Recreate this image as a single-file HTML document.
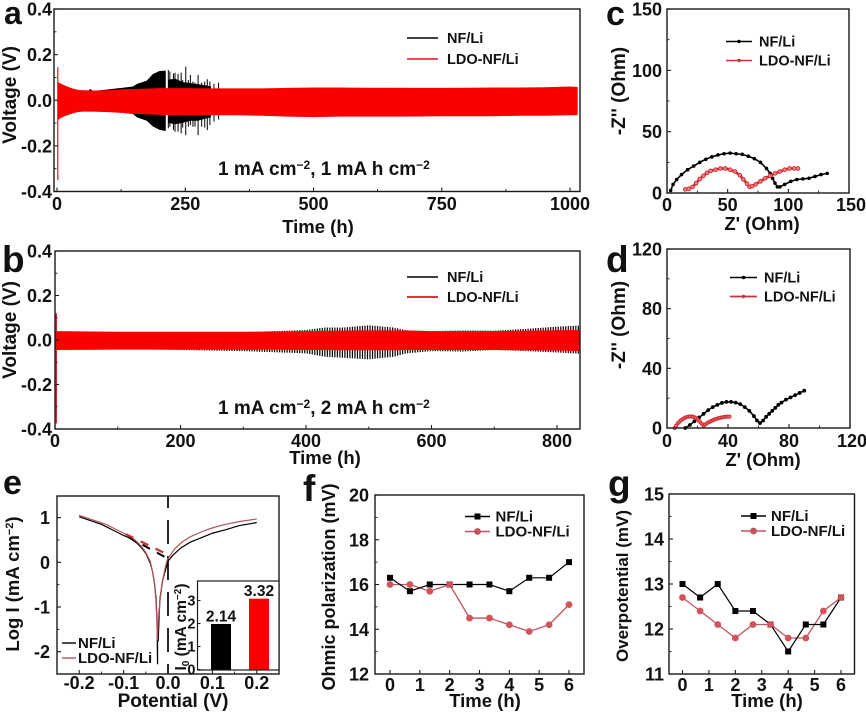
<!DOCTYPE html>
<html>
<head>
<meta charset="utf-8">
<title>Electrochemical performance panels</title>
<style>
html,body{margin:0;padding:0;background:#fff;width:866px;height:713px;overflow:hidden}
svg{display:block}
text{font-family:"Liberation Sans",sans-serif;font-weight:bold;fill:#111}
</style>
</head>
<body>
<svg id="fig" xmlns="http://www.w3.org/2000/svg" width="866" height="713" viewBox="0 0 866 713">
  <rect x="0" y="0" width="866" height="713" fill="#fff"/>
  <g id="marks"></g>

  <text x="4" y="24" font-size="32">a</text>
  <text x="2" y="272" font-size="37">b</text>
  <text x="606" y="25" font-size="34">c</text>
  <text x="606" y="272" font-size="37">d</text>
  <text x="3" y="494" font-size="34">e</text>
  <text x="303" y="501" font-size="37">f</text>
  <text x="608" y="496" font-size="37">g</text>

  <text x="318" y="233" font-size="18.5" text-anchor="middle">Time (h)</text>
  <text transform="translate(16,95) rotate(-90)" font-size="19" text-anchor="middle">Voltage (V)</text>
  <text x="218" y="175" font-size="19">1 mA cm<tspan dy="-6" font-size="12">−2</tspan><tspan dy="6">, 1 mA h cm</tspan><tspan dy="-6" font-size="12">−2</tspan></text>

  <text x="325" y="464" font-size="18.5" text-anchor="middle">Time (h)</text>
  <text transform="translate(16,330) rotate(-90)" font-size="19" text-anchor="middle">Voltage (V)</text>
  <text x="218" y="414" font-size="19">1 mA cm<tspan dy="-6" font-size="12">−2</tspan><tspan dy="6">, 2 mA h cm</tspan><tspan dy="-6" font-size="12">−2</tspan></text>

  <text x="762" y="230" font-size="18.5" text-anchor="middle">Z' (Ohm)</text>
  <text transform="translate(625,91) rotate(-90)" font-size="19" text-anchor="middle">-Z'' (Ohm)</text>
  <text x="763" y="466" font-size="18.5" text-anchor="middle">Z' (Ohm)</text>
  <text transform="translate(625,325) rotate(-90)" font-size="19" text-anchor="middle">-Z'' (Ohm)</text>

  <text x="173" y="707" font-size="19" text-anchor="middle">Potential (V)</text>
  <text transform="translate(19,584) rotate(-90)" font-size="18.5" text-anchor="middle">Log I (mA cm<tspan dy="-6" font-size="11">−2</tspan><tspan dy="6">)</tspan></text>

  <text x="485" y="707" font-size="18.5" text-anchor="middle">Time (h)</text>
  <text transform="translate(335,587) rotate(-90)" font-size="18" text-anchor="middle">Ohmic polarization (mV)</text>
  <text x="767" y="707" font-size="18.5" text-anchor="middle">Time (h)</text>
  <text transform="translate(628,586) rotate(-90)" font-size="17" text-anchor="middle">Overpotential (mV)</text>
</svg>

<script>
// ---------- panel a ----------
const aXTicks = [0, 250, 500, 750, 1000];
const aXLabels = ['0', '250', '500', '750', '1000'];
const aXMinor = [125, 375, 625, 875];
const aYTicks = [-0.4, -0.2, 0, 0.2, 0.4];
const aYLabels = ['-0.4', '-0.2', '0.0', '0.2', '0.4'];
const aYMinor = [-0.3, -0.1, 0.1, 0.3];
const aRedTime = [1,3,6,10,15,20,30,40,50,70,100,130,160,200,250,300,350,400,450,500,550,600,650,700,750,800,850,900,950,1000,1015];
const aRedHigh = [.08,.078,.075,.07,.065,.06,.052,.046,.044,.043,.044,.048,.05,.053,.053,.052,.052,.052,.054,.056,.056,.055,.055,.054,.054,.055,.056,.056,.057,.06,.058];
const aRedLow = [-.08,-.085,-.08,-.075,-.07,-.066,-.058,-.052,-.05,-.05,-.052,-.056,-.06,-.064,-.066,-.066,-.066,-.068,-.072,-.074,-.072,-.072,-.072,-.071,-.07,-.07,-.07,-.068,-.068,-.066,-.065];
const aBlackTime = [60,65,70,148,156,175,187,200,212];
const aBlackHigh = [.04,.05,.04,.06,.072,.086,.115,.128,.13];
const aBlackLow = [-.04,-.05,-.04,-.06,-.075,-.09,-.115,-.13,-.135];
const aBlackTime2 = [217,230,245,260,275,290,300];
const aBlackHigh2 = [.09,.095,.08,.075,.07,.065,.06];
const aBlackLow2 = [-.1,-.105,-.1,-.09,-.09,-.08,-.075];
const aSpikeTime = [217,220,227,230,236,242,245,251,256,260,265,269,275,282,288,293,298,306,315];
const aSpikeHigh = [.133,.126,.117,.121,.116,.121,.089,.148,.089,.111,.082,.077,.111,.077,.082,.092,.082,.072,.077];
const aSpikeLow = [-.123,-.116,-.13,-.138,-.138,-.145,-.12,-.153,-.116,-.109,-.116,-.116,-.153,-.116,-.12,-.131,-.109,-.094,-.084];
const aStartTime = [1.5];
const aStartHigh = [0.145];
const aStartLow = [-0.35];

// ---------- panel b ----------
const bXTicks = [0, 200, 400, 600, 800];
const bXLabels = ['0', '200', '400', '600', '800'];
const bXMinor = [100, 300, 500, 700];
const bYTicks = [-0.4, -0.2, 0, 0.2, 0.4];
const bYLabels = ['-0.4', '-0.2', '0.0', '0.2', '0.4'];
const bYMinor = [-0.3, -0.1, 0.1, 0.3];
const bAnchorTime = [2,100,200,300,350,400,430,460,500,540,560,600,650,700,750,800,836];
const bBlackHigh = [.035,.035,.035,.036,.04,.045,.056,.056,.066,.056,.044,.04,.043,.042,.05,.06,.065];
const bBlackLow = [-.04,-.04,-.045,-.05,-.055,-.06,-.075,-.08,-.087,-.075,-.06,-.05,-.052,-.045,-.05,-.056,-.062];
const bRedHigh = [.04,.037,.037,.037,.038,.04,.041,.042,.043,.043,.042,.04,.04,.04,.042,.044,.045];
const bRedLow = [-.045,-.043,-.043,-.044,-.044,-.045,-.045,-.046,-.046,-.046,-.045,-.045,-.045,-.045,-.046,-.047,-.05];
const bStartTime = [2];
const bStartHigh = [0.12];
const bStartLow = [-0.375];

// ---------- panel c ----------
const cTicks = [0, 50, 100, 150];
const cLabels = ['0', '50', '100', '150'];
const cMinor = [25, 75, 125];
const cBlackZre = [3,5,8,12,17,22,27,32,37,42,47,52,57,62,67,72,77,82,85,87,89,91,93,97,102,107,112,117,122,127,132];
const cBlackZim = [2,7,11,15,19,22,25,27.5,29.5,31,32,32.5,32,31.5,30,28,25,20,16,12,8,5,5,7,9.5,11,11.5,12,13.5,15,16];
const cRedZre = [15,18,21,24,27,30,33,36,40,44,48,52,56,60,63,66,68,70,73,77,81,85,89,93,97,101,105,108];
const cRedZim = [3,3.5,5,8,11.5,14,16.5,18,19,20,20,19,17.5,14.5,11,7.5,5,5.5,7,9.5,12,14,16,17.5,19,20,20,20];

// ---------- panel d ----------
const dTicks = [0, 40, 80, 120];
const dLabels = ['0', '40', '80', '120'];
const dMinor = [20, 60, 100];
const dBlackZre = [12,15,18,21,24,27,30,33,36,39,42,45,48,51,54,57,59,61,63,65,67,69,71,73,75,78,81,84,87,90];
const dBlackZim = [0,2,4.5,7,9.5,12,14,15.5,16.8,17.5,17.5,17,16,14,11.5,8,5,3.3,5,7.5,9.5,11.5,13.5,15.5,17,19,20.5,22,23.5,25];
const dRedZre = [5,6,7,8,9,10,11,12,13,14,15,16,17,18,19,20,21,22,23,24,25,26,27,28,29,30,31,32,33,34,35,36,37,38,39,40,41];
const dRedZim = [0,1.5,3,4,5,5.8,6.4,7,7.3,7.6,7.7,7.7,7.6,7.2,6.6,5.8,4.8,3.7,2.6,1.7,2.3,3,3.7,4.2,4.7,5.2,5.6,6,6.3,6.6,6.9,7.1,7.3,7.5,7.6,7.6,7.6];

// ---------- panel e ----------
const eXTicks = [-0.2, -0.1, 0, 0.1, 0.2];
const eXLabels = ['-0.2', '-0.1', '0.0', '0.1', '0.2'];
const eXMinor = [-0.15, -0.05, 0.05, 0.15];
const eYTicks = [-2, -1, 0, 1];
const eYLabels = ['-2', '-1', '0', '1'];
const eYMinor = [-1.5, -0.5, 0.5];
const eBlackV = [-.2,-.18,-.15,-.12,-.1,-.09,-.08,-.07,-.06,-.05,-.04,-.035,-.03,-.027,-.025,-.0235,-.0235,-.022,-.02,-.018,-.012,-.005,0,.01,.03,.05,.08,.1,.13,.16,.2];
const eBlackI = [1.02,.95,.85,.7,.6,.56,.5,.43,.33,.2,-.02,-.2,-.5,-.8,-1.2,-2.28,-1.75,-1.75,-1.2,-.8,-.4,-.15,.02,.15,.33,.45,.57,.65,.73,.82,.89];
const eRedV = [-.2,-.17,-.14,-.12,-.1,-.09,-.08,-.07,-.06,-.05,-.04,-.035,-.03,-.027,-.025,-.024,-.022,-.018,-.013,-.007,-.002,.005,.015,.03,.05,.08,.1,.13,.16,.2];
const eRedI = [1.05,.95,.85,.75,.65,.6,.54,.46,.36,.22,.02,-.2,-.5,-.9,-1.3,-1.75,-1.3,-.85,-.45,-.15,.05,.16,.3,.44,.57,.7,.77,.85,.91,.97];
const eTafelBlackV = [-0.09, 0];
const eTafelBlackI = [0.57, 0.08];
const eTafelRedV = [-0.095, 0];
const eTafelRedI = [0.63, 0.17];
const insetCategories = ['NF/Li', 'LDO-NF/Li'];
const insetBarHeights = [1.98, 3.08];
const insetBarLabels = ['2.14', '3.32'];
const insetYTicks = [0, 1, 2, 3];
const insetYLabels = ['0', '1', '2', '3'];

// ---------- panels f, g ----------
const timeHours = [0, 0.667, 1.333, 2, 2.667, 3.333, 4, 4.667, 5.333, 6];
const timeTicks = [0, 1, 2, 3, 4, 5, 6];
const timeLabels = ['0', '1', '2', '3', '4', '5', '6'];
const fNF = [16.3,15.7,16,16,16,16,15.7,16.3,16.3,17];
const fLDO = [16,16,15.7,16,14.5,14.5,14.2,13.9,14.2,15.1];
const fYTicks = [12, 14, 16, 18, 20];
const fYLabels = ['12', '14', '16', '18', '20'];
const fYMinor = [13, 15, 17, 19];
const gNF = [13,12.7,13,12.4,12.4,12.1,11.5,12.1,12.1,12.7];
const gLDO = [12.7,12.4,12.1,11.8,12.1,12.1,11.8,11.8,12.4,12.7];
const gYTicks = [11, 12, 13, 14, 15];
const gYLabels = ['11', '12', '13', '14', '15'];
const gYMinor = [11.5, 12.5, 13.5, 14.5];

const NS = 'http://www.w3.org/2000/svg';
const root = document.getElementById('marks');
const INK = '#1a1a1a';
const RED = '#fb0000';
const MUTED = '#c4525c';

function linear(d0, d1, r0, r1) {
  return v => r0 + (v - d0) * (r1 - r0) / (d1 - d0);
}
function mk(tag, attrs, parent) {
  const el = document.createElementNS(NS, tag);
  for (const k in attrs) el.setAttribute(k, attrs[k]);
  (parent || root).appendChild(el);
  return el;
}
function pts(xs, ys, sx, sy) {
  return xs.map((x, i) => sx(x).toFixed(2) + ',' + sy(ys[i]).toFixed(2)).join(' ');
}
function lookup(xs, ys, x) {
  for (let i = 1; i < xs.length; i++) {
    if (x <= xs[i]) return ys[i - 1] + (ys[i] - ys[i - 1]) * (x - xs[i - 1]) / (xs[i] - xs[i - 1]);
  }
  return ys[ys.length - 1];
}

function axes(id, box, sx, sy, cfg) {
  const g = mk('g', {});
  
  
  const frame = mk('rect', {x: box.l, y: box.t, width: box.r - box.l, height: box.b - box.t, fill: 'none', stroke: INK, 'stroke-width': 1.4}, g);
  
  
  cfg.xTicks.forEach((v, i) => {
    const t = mk('line', {x1: sx(v), x2: sx(v), y1: box.b, y2: box.b - 4, stroke: INK, 'stroke-width': 1.1}, g);
    
    
    const lab = mk('text', {x: sx(v) + (cfg.xShift ? cfg.xShift[i] || 0 : 0), y: cfg.xBase, 'font-size': cfg.fs || 18, 'text-anchor': 'middle'}, g);
    lab.textContent = cfg.xLabels[i];
    
    
  });
  (cfg.xMinor || []).forEach(v => {
    const t = mk('line', {x1: sx(v), x2: sx(v), y1: box.b, y2: box.b - 2.5, stroke: INK, 'stroke-width': 0.9}, g);
    
    
  });
  cfg.yTicks.forEach((v, i) => {
    const t = mk('line', {x1: box.l, x2: box.l + 4, y1: sy(v), y2: sy(v), stroke: INK, 'stroke-width': 1.1}, g);
    
    
    const lab = mk('text', {x: cfg.yRight, y: sy(v) + 6.5, 'font-size': cfg.fs || 18, 'text-anchor': 'end'}, g);
    lab.textContent = cfg.yLabels[i];
    
    
  });
  (cfg.yMinor || []).forEach(v => {
    const t = mk('line', {x1: box.l, x2: box.l + 2.5, y1: sy(v), y2: sy(v), stroke: INK, 'stroke-width': 0.9}, g);
    
    
  });
}

function band(name, t, hi, lo, sx, sy, color) {
  const p = mk('polygon', {points: pts(t, hi, sx, sy) + ' ' + pts(t.slice().reverse(), lo.slice().reverse(), sx, sy), fill: color});
  
  
}
function spikes(name, t, hi, lo, sx, sy, color, w) {
  t.forEach((v, i) => {
    const s = mk('line', {x1: sx(v), x2: sx(v), y1: sy(hi[i]), y2: sy(lo[i]), stroke: color, 'stroke-width': w});
    
    
  });
}
function comb(name, t, hi, lo, sx, sy, color, w) {
  for (let h = t[0]; h <= t[t.length - 1]; h += 4) {
    const s = mk('line', {x1: sx(h), x2: sx(h), y1: sy(lookup(t, hi, h)), y2: sy(lookup(t, lo, h)), stroke: color, 'stroke-width': w});
    
    
  }
}
function legend(id, label, x1, x2, tx, y, fs, color, marker, lw) {
  const l = mk('line', {x1: x1, x2: x2, y1: y, y2: y, stroke: color, 'stroke-width': lw || 1.4});
  
  
  if (marker) {
    const mx = (x1 + x2) / 2;
    const m = marker === 'square'
      ? mk('rect', {x: mx - 3, y: y - 3, width: 6, height: 6, fill: color})
      : mk('circle', {cx: mx, cy: y, r: marker, fill: color});
    
    
  }
  const t = mk('text', {x: tx, y: y + 5.2, 'font-size': fs});
  t.textContent = label;
  
  
}

// --- draw a ---
(function () {
  const sx = linear(0, 1000, 57, 570), sy = linear(-0.4, 0.4, 191.5, 9);
  const box = {l: 54, r: 580, t: 9, b: 191.5};
  band('a-nf-li-early-band', aBlackTime, aBlackHigh, aBlackLow, sx, sy, '#000');
  band('a-nf-li-late-band', aBlackTime2, aBlackHigh2, aBlackLow2, sx, sy, '#000');
  spikes('a-nf-li-spike', aSpikeTime, aSpikeHigh, aSpikeLow, sx, sy, '#000', 1);
  band('a-ldo-nf-li-band', aRedTime, aRedHigh, aRedLow, sx, sy, RED);
  spikes('a-ldo-nf-li-start-spike', aStartTime, aStartHigh, aStartLow, sx, sy, '#e0141c', 1.2);
  axes('a', box, sx, sy, {xTicks: aXTicks, xLabels: aXLabels, xMinor: aXMinor, yTicks: aYTicks, yLabels: aYLabels, yMinor: aYMinor, xBase: 210, yRight: 52});
  legend('a-nf-li', 'NF/Li', 407, 438, 447, 38, 14.5, '#000');
  legend('a-ldo-nf-li', 'LDO-NF/Li', 407, 438, 447, 59, 14.5, '#e0141c');
})();

// --- draw b ---
(function () {
  const sx = linear(0, 800, 55, 557), sy = linear(-0.4, 0.4, 429, 251);
  const box = {l: 55, r: 580, t: 251, b: 429};
  comb('b-nf-li-cycle', bAnchorTime, bBlackHigh, bBlackLow, sx, sy, '#000', 1.2);
  band('b-ldo-nf-li-band', bAnchorTime, bRedHigh, bRedLow, sx, sy, RED);
  spikes('b-ldo-nf-li-start-spike', bStartTime, bStartHigh, bStartLow, sx, sy, '#d0101a', 1.3);
  axes('b', box, sx, sy, {xTicks: bXTicks, xLabels: bXLabels, xMinor: bXMinor, yTicks: bYTicks, yLabels: bYLabels, yMinor: bYMinor, xBase: 447, yRight: 52});
  legend('b-nf-li', 'NF/Li', 407, 438, 447, 277, 14.5, '#000');
  legend('b-ldo-nf-li', 'LDO-NF/Li', 407, 438, 447, 297, 14.5, '#e0141c', null, 1.8);
})();

function eis(x, y, sx, sy) {
  return function (color, r, open, name, lw) {
    const l = mk('polyline', {points: pts(x, y, sx, sy), fill: 'none', stroke: color, 'stroke-width': lw});
    
    
    x.forEach((v, i) => {
      const c = mk('circle', {cx: sx(v), cy: sy(y[i]), r: r, fill: open ? '#f08a8a' : color, stroke: open ? color : 'none', 'stroke-width': open ? 1 : 0});
      
      
    });
  };
}

// --- draw c ---
(function () {
  const sx = linear(0, 150, 667, 849), sy = linear(0, 150, 193, 9);
  const box = {l: 667, r: 849, t: 9, b: 193};
  eis(cBlackZre, cBlackZim, sx, sy)('#000', 1.8, false, 'c-nf-li', 1.6);
  eis(cRedZre, cRedZim, sx, sy)('#d42a32', 1.8, true, 'c-ldo-nf-li', 2.6);
  axes('c', box, sx, sy, {xTicks: cTicks, xLabels: cLabels, xMinor: cMinor, yTicks: cTicks, yLabels: cLabels, yMinor: cMinor, xBase: 211, yRight: 662, xShift: [0, 0, 0, 2]});
  legend('c-nf-li', 'NF/Li', 726, 752, 759, 41.5, 14.5, '#000', 1.7);
  legend('c-ldo-nf-li', 'LDO-NF/Li', 726, 752, 759, 60.5, 14.5, '#c8333b', 1.7);
})();

// --- draw d ---
(function () {
  const sx = linear(0, 120, 667, 850), sy = linear(0, 120, 428, 249);
  const box = {l: 667, r: 850, t: 249, b: 428};
  eis(dBlackZre, dBlackZim, sx, sy)('#000', 1.9, false, 'd-nf-li', 1.6);
  eis(dRedZre, dRedZim, sx, sy)('#d42a32', 1.5, true, 'd-ldo-nf-li', 2.8);
  axes('d', box, sx, sy, {xTicks: dTicks, xLabels: dLabels, xMinor: dMinor, yTicks: dTicks, yLabels: dLabels, yMinor: dMinor, xBase: 447, yRight: 662, xShift: [0, 0, 0, 2]});
  legend('d-nf-li', 'NF/Li', 730, 757, 764, 277.5, 14.5, '#000', 1.7);
  legend('d-ldo-nf-li', 'LDO-NF/Li', 730, 757, 764, 296.5, 14.5, '#c8333b', 1.7, 1.8);
})();

// --- draw e ---
(function () {
  const sx = linear(-0.25, 0.25, 57, 279), sy = linear(0, 1, 562.3, 517.6);
  const box = {l: 57, r: 279, t: 496, b: 674};
  const zero = mk('line', {x1: sx(0), x2: sx(0), y1: box.t, y2: box.b, stroke: '#000', 'stroke-width': 1.7, 'stroke-dasharray': '24 12', 'stroke-dashoffset': 12});
  
  
  const tb = mk('line', {x1: sx(eTafelBlackV[0]), x2: sx(eTafelBlackV[1]), y1: sy(eTafelBlackI[0]), y2: sy(eTafelBlackI[1]), stroke: '#000', 'stroke-width': 2, 'stroke-dasharray': '8.5 8'});
  
  
  const cb = mk('polyline', {points: pts(eBlackV, eBlackI, sx, sy), fill: 'none', stroke: '#000', 'stroke-width': 1.2});
  
  
  const cr = mk('polyline', {points: pts(eRedV, eRedI, sx, sy), fill: 'none', stroke: '#b2545c', 'stroke-width': 1.2});
  
  
  const tr = mk('line', {x1: sx(eTafelRedV[0]), x2: sx(eTafelRedV[1]), y1: sy(eTafelRedI[0]), y2: sy(eTafelRedI[1]), stroke: '#c8333b', 'stroke-width': 2.2, 'stroke-dasharray': '8.5 8'});
  
  
  axes('e', box, sx, sy, {xTicks: eXTicks, xLabels: eXLabels, xMinor: eXMinor, yTicks: eYTicks, yLabels: eYLabels, yMinor: eYMinor, xBase: 689, yRight: 50});
  legend('e-nf-li', 'NF/Li', 62, 76, 78, 643, 15, '#000');
  legend('e-ldo-nf-li', 'LDO-NF/Li', 62, 76, 78, 658, 15, '#b2545c');

  // inset
  const iy = linear(0, 1, 669.5, 646.5);
  const ix = i => 221 + i * 38;
  const frame = mk('rect', {x: 197.5, y: 581, width: 81.5, height: 89, fill: '#fff', stroke: INK, 'stroke-width': 1.2});
  
  
  insetCategories.forEach((c, i) => {
    const b = mk('rect', {x: ix(i) - 10, y: iy(insetBarHeights[i]), width: 20, height: iy(0) - iy(insetBarHeights[i]), fill: i === 0 ? '#000' : RED});
    
    
    const t = mk('text', {x: ix(i), y: iy(insetBarHeights[i]) - 2.5, 'font-size': 15.5, 'text-anchor': 'middle'});
    t.textContent = insetBarLabels[i];
    
    
  });
  insetYTicks.forEach((v, i) => {
    const k = mk('line', {x1: 197.5, x2: 200.5, y1: iy(v), y2: iy(v), stroke: INK, 'stroke-width': 1});
    
    
    const t = mk('text', {x: 195.5, y: iy(v) + 5, 'font-size': 14.5, 'text-anchor': 'end'});
    t.textContent = insetYLabels[i];
    
    
  });
  const it = mk('text', {transform: 'translate(186,627) rotate(-90)', 'font-size': 15.5, 'text-anchor': 'middle'});
  it.innerHTML = 'I<tspan dy="3" font-size="10">0</tspan><tspan dy="-3"> (mA cm</tspan><tspan dy="-5" font-size="10">−2</tspan><tspan dy="5">)</tspan>';
  
  
})();

function timeline(id, nf, ldo, sx, sy) {
  const lr = mk('polyline', {points: pts(timeHours, ldo, sx, sy), fill: 'none', stroke: MUTED, 'stroke-width': 1.3});
  
  
  const lb = mk('polyline', {points: pts(timeHours, nf, sx, sy), fill: 'none', stroke: '#000', 'stroke-width': 1.2});
  
  
  timeHours.forEach((t, i) => {
    const s = mk('rect', {x: sx(t) - 3, y: sy(nf[i]) - 3, width: 6, height: 6, fill: '#000'});
    
    
  });
  timeHours.forEach((t, i) => {
    const c = mk('circle', {cx: sx(t), cy: sy(ldo[i]), r: 3.4, fill: '#d2535c'});
    
    
  });
}

// --- draw f ---
(function () {
  const sx = linear(0, 6, 390, 569), sy = linear(12, 20, 674, 495);
  const box = {l: 375, r: 584, t: 495, b: 674};
  timeline('f', fNF, fLDO, sx, sy);
  axes('f', box, sx, sy, {xTicks: timeTicks, xLabels: timeLabels, yTicks: fYTicks, yLabels: fYLabels, yMinor: fYMinor, xBase: 691, yRight: 369});
  legend('f-nf-li', 'NF/Li', 465, 490, 495.5, 516.5, 15, '#000', 'square');
  legend('f-ldo-nf-li', 'LDO-NF/Li', 465, 490, 495.5, 531.5, 15, MUTED, 3.4);
})();

// --- draw g ---
(function () {
  const sx = linear(0, 6, 682.5, 841), sy = linear(11, 15, 674, 494);
  const box = {l: 669, r: 854.5, t: 494, b: 674};
  timeline('g', gNF, gLDO, sx, sy);
  axes('g', box, sx, sy, {xTicks: timeTicks, xLabels: timeLabels, yTicks: gYTicks, yLabels: gYLabels, yMinor: gYMinor, xBase: 691, yRight: 664});
  legend('g-nf-li', 'NF/Li', 741, 766, 771, 516, 15, '#000', 'square');
  legend('g-ldo-nf-li', 'LDO-NF/Li', 741, 766, 771, 531, 15, MUTED, 3.4);
})();
</script>
</body>
</html>
